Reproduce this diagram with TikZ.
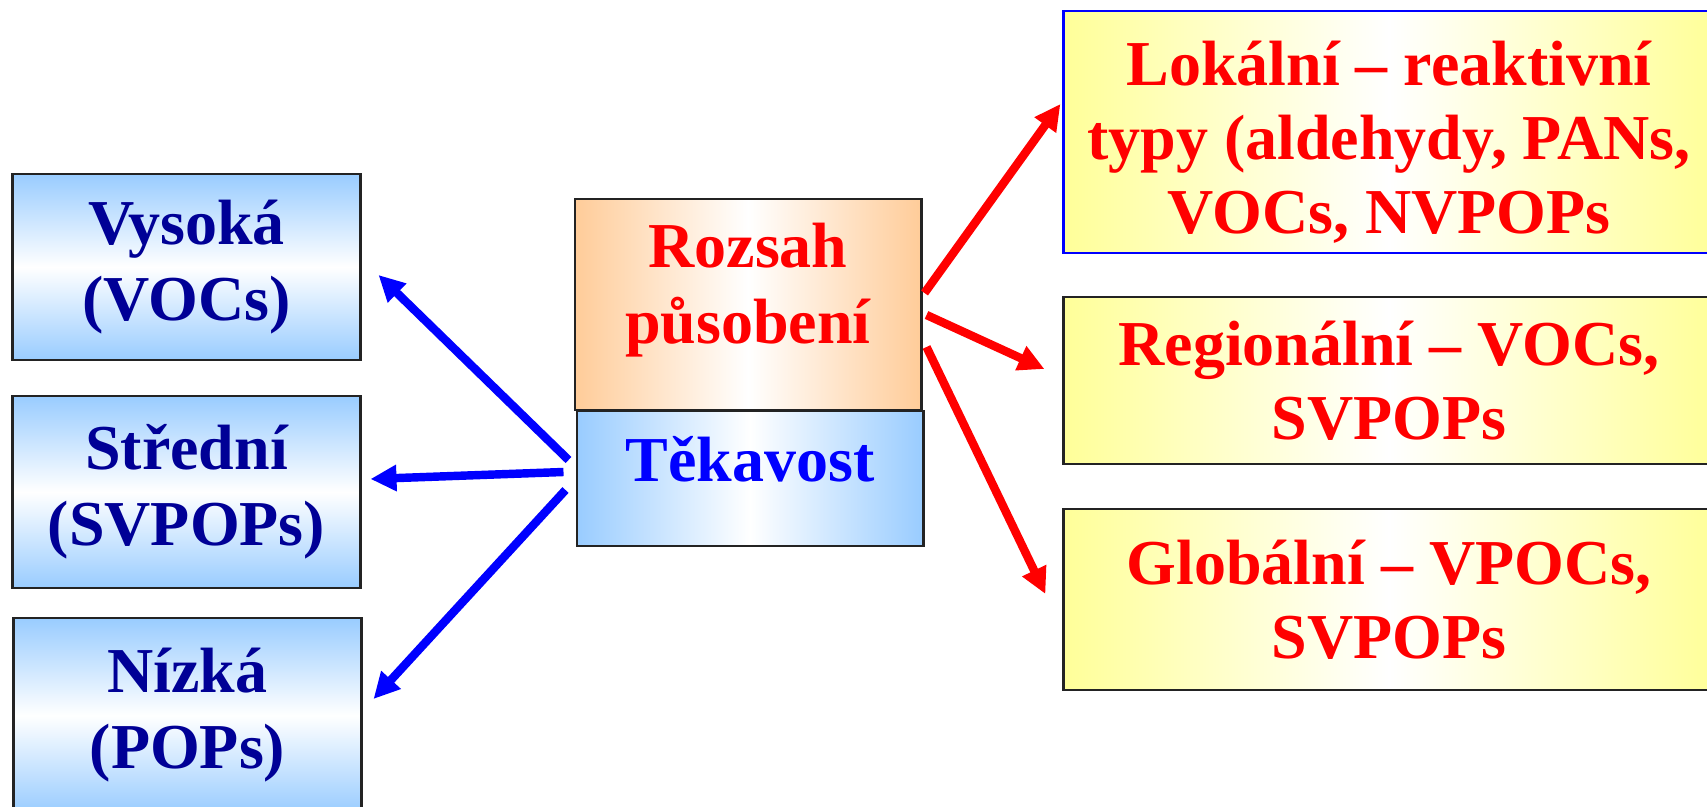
\documentclass[tikz,border=0pt]{standalone}
\usepackage{fontspec}
\setmainfont{Liberation Serif}
\usetikzlibrary{
  arrows.meta,
  positioning,
  calc
}
\definecolor{navytext}{RGB}{0,0,150}
\definecolor{skyfill}{RGB}{153,204,255}
\definecolor{peachfill}{RGB}{255,204,153}
\definecolor{lemonfill}{RGB}{255,255,153}
\definecolor{framegray}{RGB}{35,35,35}
\newcommand{\bigbold}[1]{\fontsize{18.2}{#1}\selectfont\bfseries}

\tikzset{
  volbox/.style={draw=framegray, line width=0.8pt, top color=skyfill,
    bottom color=skyfill, middle color=white, minimum width=3.47cm,
    align=center, text=navytext, font=\bigbold{21.6pt}},
  rangebox/.style={draw=framegray, line width=0.8pt, left color=lemonfill,
    right color=lemonfill, middle color=white, minimum width=6.5cm,
    align=center, text=red, font=\bigbold{21pt}},
  bluearrow/.style={-{Triangle[length=0.26cm,width=0.25cm]}, blue,
    line width=2.4pt},
  redarrow/.style={-{Triangle[length=0.26cm,width=0.25cm]}, red,
    line width=2.4pt}
}

\begin{document}
\begin{tikzpicture}[x=0.01cm, y=-0.01cm]
  \useasboundingbox (0,0) rectangle (1707,807);
  \clip (0,0) rectangle (1707,807);

  % volatility classes
  \node[volbox, minimum height=1.86cm] (vysoka) at (186.5,267) {Vysoká\\(VOCs)};
  \node[volbox, minimum height=1.92cm] (stredni) at (186.5,492) {Střední\\(SVPOPs)};
  \node[volbox, minimum height=1.95cm] (nizka) at (187.5,715.5) {Nízká\\(POPs)};

  % centre
  \node[draw=framegray, line width=0.8pt, left color=peachfill,
    right color=peachfill, middle color=white, minimum width=3.46cm,
    minimum height=2.11cm] (rozsah) at (748,304.5) {};
  \node[align=center, text=red, font=\bigbold{21.6pt}] (rozsahtext)
    at ($(rozsah.center)+(0,-14)$) {Rozsah\\působení};
  \node[draw=framegray, line width=0.8pt, left color=skyfill,
    right color=skyfill, middle color=white, minimum width=3.46cm,
    minimum height=1.35cm] (tekavost) at (750,478.5) {};
  \node[anchor=base, text=blue, font=\bigbold{21.6pt}] (tekavosttext)
    at ($(tekavost.center)+(0,3)$) {Těkavost};

  % range classes
  \node[rangebox, draw=blue, minimum height=2.42cm] (lokalni) at (1389,132) {};
  \node[align=center, text=red, font=\bigbold{21pt}] (lokalnitext)
    at ($(lokalni.center)+(0,10)$)
    {Lokální – reaktivní\\typy (aldehydy, PANs,\\VOCs, NVPOPs};
  \node[rangebox, minimum height=1.67cm] (regionalni) at (1389,380.5)
    {Regionální – VOCs,\\SVPOPs};
  \node[rangebox, minimum height=1.81cm] (globalni) at (1389,599.5)
    {Globální – VPOCs,\\SVPOPs};

  \draw[bluearrow] ($(tekavost.west)+(-7,-18.5)$) -- ($(vysoka.east)+(17,8)$);
  \draw[bluearrow] ($(tekavost.west)+(-12,-6.5)$) -- ($(stredni.east)+(9,-13)$);
  \draw[bluearrow] ($(tekavost.west)+(-10,11.5)$) -- ($(nizka.east)+(11,-16.5)$);

  \draw[redarrow] ($(rozsah.east)+(2,-11.5)$) -- ($(lokalni.west)+(-2,-28)$);
  \draw[redarrow] ($(rozsah.east)+(4,10.5)$) -- ($(regionalni.west)+(-18,-11.5)$);
  \draw[redarrow] ($(rozsah.east)+(4,42.5)$) -- ($(globalni.west)+(-17,-5.5)$);
\end{tikzpicture}
\end{document}
